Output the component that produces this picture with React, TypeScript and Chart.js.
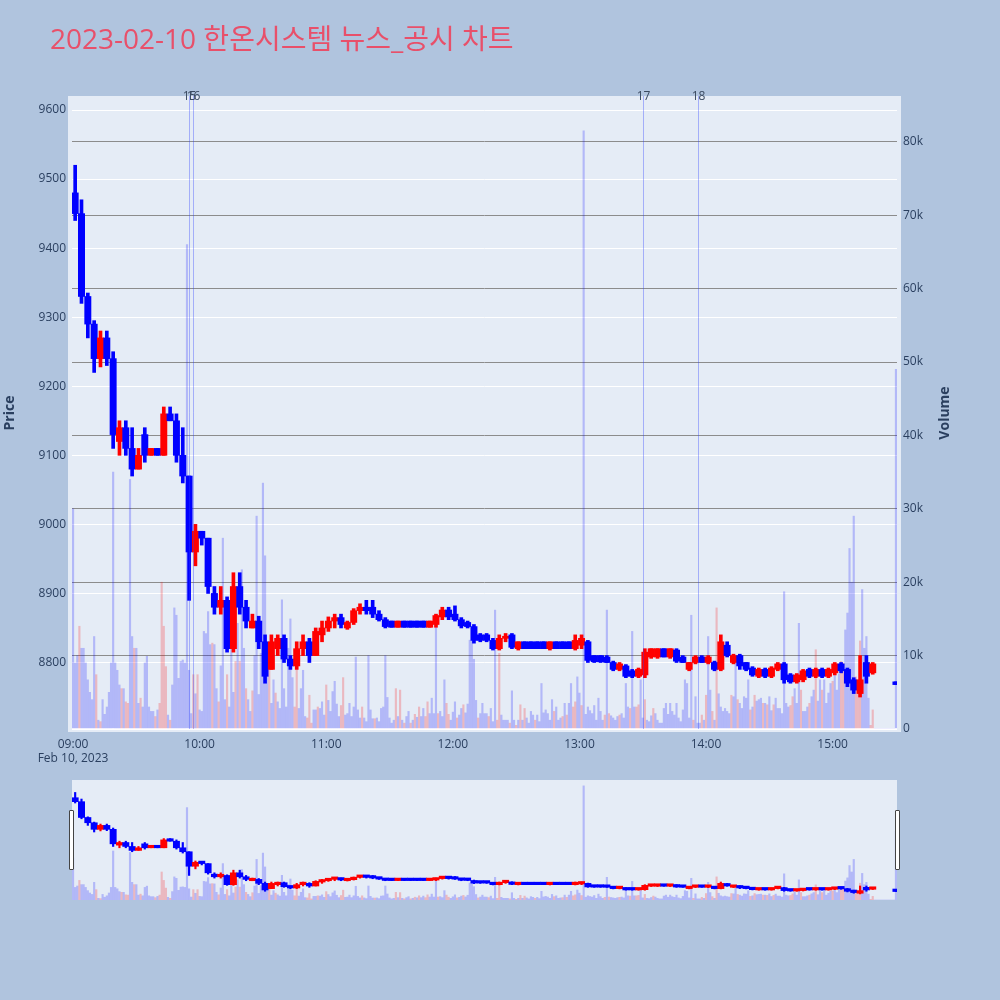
import React, { useEffect, useRef } from "react";
import { Chart, registerables } from "chart.js";
Chart.register(...registerables);

const TITLE = "2023-02-10 한온시스템 뉴스_공시 차트";
const DATE_LABEL = "Feb 10, 2023";
const X_TICKS = ["09:00", "10:00", "11:00", "12:00", "13:00", "14:00", "15:00"];
const PRICE_TICKS = [8800, 8900, 9000, 9100, 9200, 9300, 9400, 9500, 9600];
const VOLUME_TICKS = [0, 10000, 20000, 30000, 40000, 50000, 60000, 70000, 80000];
const VOLUME_TICK_LABELS = ["0", "10k", "20k", "30k", "40k", "50k", "60k", "70k", "80k"];

const NEWS_TIMES = ["09:55", "09:57", "13:30", "13:56"];
const NEWS_LABELS = ["15", "16", "17", "18"];

// candle centre times (3-minute candles) + closing auction
const CANDLE_TIMES = [
  "09:01","09:04","09:07","09:10","09:13","09:16","09:19","09:22","09:25","09:28",
  "09:31","09:34","09:37","09:40","09:43","09:46","09:49","09:52","09:55","09:58",
  "10:01","10:04","10:07","10:10","10:13","10:16","10:19","10:22","10:25","10:28",
  "10:31","10:34","10:37","10:40","10:43","10:46","10:49","10:52","10:55","10:58",
  "11:01","11:04","11:07","11:10","11:13","11:16","11:19","11:22","11:25","11:28",
  "11:31","11:34","11:37","11:40","11:43","11:46","11:49","11:52","11:55","11:58",
  "12:01","12:04","12:07","12:10","12:13","12:16","12:19","12:22","12:25","12:28",
  "12:31","12:34","12:37","12:40","12:43","12:46","12:49","12:52","12:55","12:58",
  "13:01","13:04","13:07","13:10","13:13","13:16","13:19","13:22","13:25","13:28",
  "13:31","13:34","13:37","13:40","13:43","13:46","13:49","13:52","13:55","13:58",
  "14:01","14:04","14:07","14:10","14:13","14:16","14:19","14:22","14:25","14:28",
  "14:31","14:34","14:37","14:40","14:43","14:46","14:49","14:52","14:55","14:58",
  "15:01","15:04","15:07","15:10","15:13","15:16","15:19","15:30"
];
const OPEN = [
  9480,9450,9330,9290,9240,9270,9240,9120,9140,9110,
  9080,9130,9100,9110,9100,9160,9150,9100,9070,8960,
  8990,8980,8900,8880,8890,8820,8910,8880,8850,8860,
  8830,8790,8820,8835,8805,8795,8820,8830,8810,8840,
  8850,8860,8865,8850,8858,8875,8880,8880,8870,8862,
  8860,8851,8860,8860,8860,8860,8851,8855,8866,8876,
  8870,8862,8858,8852,8840,8840,8832,8820,8835,8840,
  8820,8830,8830,8830,8830,8820,8830,8830,8830,8820,
  8825,8830,8810,8810,8808,8800,8790,8795,8788,8780,
  8782,8808,8808,8820,8808,8818,8808,8790,8800,8808,
  8800,8800,8790,8825,8800,8810,8800,8792,8780,8790,
  8780,8790,8798,8782,8772,8775,8790,8780,8790,8780,
  8785,8798,8790,8775,8755,8800,8785,8772
];
const HIGH = [
  9520,9470,9335,9295,9280,9280,9250,9150,9150,9140,
  9110,9140,9110,9110,9170,9170,9160,9140,9070,9000,
  8990,8980,8910,8910,8895,8930,8930,8890,8870,8867,
  8840,8840,8840,8840,8810,8830,8840,8835,8850,8860,
  8866,8870,8870,8860,8878,8885,8890,8890,8875,8865,
  8860,8860,8860,8860,8860,8860,8860,8870,8880,8880,
  8882,8865,8860,8855,8842,8842,8835,8840,8842,8842,
  8830,8830,8830,8830,8830,8830,8830,8830,8830,8840,
  8840,8832,8810,8810,8810,8802,8800,8797,8790,8792,
  8820,8820,8820,8820,8820,8820,8810,8800,8810,8810,
  8810,8802,8840,8830,8812,8812,8800,8794,8792,8792,
  8794,8800,8800,8784,8784,8790,8792,8792,8792,8792,
  8800,8800,8792,8778,8810,8810,8800,8772
];
const LOW = [
  9440,9320,9270,9220,9228,9230,9110,9100,9100,9070,
  9080,9090,9100,9100,9100,9150,9090,9060,8890,8940,
  8970,8900,8870,8870,8815,8815,8870,8850,8850,8820,
  8770,8790,8810,8800,8790,8790,8810,8800,8810,8830,
  8845,8850,8850,8848,8855,8870,8870,8865,8860,8850,
  8851,8851,8851,8851,8851,8851,8851,8851,8862,8862,
  8860,8850,8850,8828,8830,8830,8818,8818,8830,8820,
  8818,8820,8820,8820,8820,8818,8820,8820,8820,8818,
  8820,8800,8800,8800,8800,8788,8788,8778,8778,8778,
  8778,8806,8806,8808,8806,8800,8800,8788,8798,8800,
  8798,8788,8788,8808,8798,8790,8788,8780,8778,8778,
  8778,8788,8770,8770,8770,8772,8778,8778,8778,8778,
  8782,8785,8765,8755,8750,8770,8783,8768
];
const CLOSE = [
  9450,9330,9290,9240,9270,9240,9130,9140,9110,9080,
  9100,9100,9110,9100,9160,9150,9100,9070,8960,8990,
  8980,8910,8880,8890,8820,8910,8880,8860,8860,8830,
  8780,8830,8835,8805,8795,8820,8830,8810,8845,8850,
  8860,8865,8855,8858,8875,8880,8875,8870,8862,8852,
  8851,8860,8851,8851,8851,8851,8860,8868,8876,8866,
  8862,8853,8852,8832,8832,8832,8820,8835,8838,8822,
  8830,8820,8820,8820,8820,8830,8820,8820,8820,8832,
  8835,8803,8801,8801,8800,8790,8798,8780,8780,8790,
  8815,8820,8820,8808,8820,8802,8800,8800,8808,8800,
  8808,8790,8830,8810,8810,8795,8790,8782,8790,8780,
  8792,8798,8775,8772,8782,8788,8780,8790,8780,8790,
  8798,8788,8770,8760,8775,8780,8798,8768
];

// one volume bar per minute from 09:00 (values in thousands of shares)
const VOLUME_START = "09:00";
const VOLUME_K = [
  30,9,10,14,11,11,9,6.7,5,4,
  12.6,7.4,1.2,1,4,2,3,5,9,35,
  9,8,6,5.5,5.5,3.7,3.5,34,12.6,11,
  11,3.5,4.2,3,9,9.9,3,2.4,2.4,1.7,
  2.6,3.5,20,14,8.5,1.9,1.2,6,16.5,15.5,
  6.9,9.2,9.4,9,66,8,2.1,7.4,4.8,7.4,
  2.6,2.4,13.3,13,16,11.5,11.7,11.5,5.5,3.7,
  8.6,26,4,7.4,3,19,5,9.2,14.4,9.2,
  21.7,11,5.5,4,2.4,5.2,10,29,4.7,10.3,
  33.5,23.6,7.2,8.6,3.5,6.7,4.9,3.7,2.8,17.6,
  5.5,3,11,15,7,3,9.5,2.8,5.5,8,
  1.7,1.5,4.6,0.8,2.6,2.6,3,2.8,3.7,1.9,
  6,3.9,2.4,5.1,6.5,3.4,1.7,3.2,7,1.9,
  2.1,3.5,1.7,3,9.8,2.6,1.5,3,1.5,1,
  10,2.6,1.4,1.4,1.5,1,2.8,3,10,4.3,
  1.5,0.8,1.2,5.5,1.7,5.3,1.2,0.8,1.7,2.4,
  0.8,1.2,2,1.6,3,1.7,2.8,1.7,3.7,2.1,
  4.2,2.1,14.4,2.1,2.4,1.7,6.7,3.5,2,1.2,
  2.3,3.7,1.5,1.9,2.8,3.3,2.2,3.4,12.1,12.1,
  9.5,3.9,1.5,2.1,3.5,2.1,2.1,1.7,2.8,1,
  16.2,1.2,10.3,1.9,1.2,1.2,1.2,0.8,5.2,1.2,
  0.5,1.2,3.3,1.2,2.8,1.5,0.8,2.4,1.9,1.2,
  1.9,1,6.2,2.2,2.6,2.1,1.2,4,2.4,3,
  1.2,1.5,1.7,3.5,1.9,3.5,6.2,3,3.7,7.1,
  4.9,3.2,81.5,2,3,2.5,2.1,3.2,1.2,4.2,
  2.4,1.2,1.9,16.2,2.1,1.8,1.5,1.2,1.7,1.9,
  2.1,1.5,6.2,3,2.8,13.3,3,3,3.3,6.7,
  1.5,4,1.2,1,1.8,2.8,2.1,1.2,0.8,0.8,
  2.8,3.5,2,3.5,2.4,1.9,3.5,1.5,1,2.6,
  6.7,6.2,1.5,15.5,1.2,4.4,0.8,0.8,1.9,1.2,
  4.6,12.6,5.3,2.4,1.2,16.5,4.8,3,2.4,2.8,
  2.4,2.1,4.6,4.4,9.9,4,3.5,2.8,4.4,4.2,
  6.7,2.6,3,4.6,3.8,4,4.2,3.5,3.5,3.3,
  4.4,2.5,3.3,4.2,2.8,2.8,2.1,18.7,3.5,3,
  3.2,4.4,5.5,3.5,14.4,5.3,2.4,2.4,3,3.5,
  4.4,5.3,10.8,3.8,6.7,5.3,6.7,3.5,4.9,6.2,
  6.5,8,5.3,7.5,9.2,9,13.5,15.8,24.6,20,
  29,7.1,6.2,12,19,11,12.6,4.2,0.5,2.6,
  0,0,0,0,0,0,0,0,0,0,
  49
];
// minutes (from 09:00) whose volume bar is an up (red) bar
const VOLUME_UP_MINUTES = [
  3,11,13,23,25,26,29,32,39,41,42,43,44,46,57,59,66,69,73,77,79,82,85,93,96,
  105,106,111,112,113,116,120,127,128,137,143,153,155,157,160,162,164,167,168,
  173,177,178,182,185,192,197,201,202,207,210,212,214,219,228,232,234,237,238,
  241,252,254,259,264,267,268,271,275,294,298,300,303,305,312,315,321,323,327,
  329,332,340,341,345,349,352,355,360,364,365,371,372,373,378,379
];

// ---- styling / layout ----
const PAPER = "#B0C4DE";
const PLOT_BG = "#E5ECF6";
const TICK_COLOR = "#2a3f5f";
const TITLE_COLOR = "#E8506A";
const UP = "#FF0000";
const DOWN = "#0000FF";
const VOL_UP = "rgba(255,0,0,0.22)";
const VOL_DOWN = "rgba(0,0,255,0.22)";
const FONT = "'Open Sans', 'Noto Sans CJK KR', sans-serif";
const X_MIN = -0.5, X_MAX = 390.5;
const P_MIN = 8703.7, P_MAX = 9614.5;
const V_MAX = 85700;

const toMin = (s: string) => {
  const [h, m] = s.split(":").map(Number);
  return (h - 9) * 60 + m;
};

function buildDatasets(slider: boolean) {
  const cx = CANDLE_TIMES.map(toMin);
  const cColors = CLOSE.map((c, i) => (c >= OPEN[i] ? UP : DOWN));
  const v0 = toMin(VOLUME_START);
  const upSet = new Set(VOLUME_UP_MINUTES);
  const volData = VOLUME_K.map((v, i) => ({ x: v0 + i, y: v * 1000 }));
  const volColors = VOLUME_K.map((_, i) => (upSet.has(v0 + i) ? VOL_UP : VOL_DOWN));
  return [
    {
      type: "bar",
      data: volData,
      backgroundColor: volColors,
      barThickness: 1.5,
      grouped: false,
      yAxisID: "y1",
      order: 3,
    },
    {
      type: "bar",
      data: cx.map((x, i) => ({ x, y: [LOW[i], HIGH[i]] })),
      backgroundColor: cColors,
      barThickness: slider ? 1.5 : 3,
      grouped: false,
      yAxisID: "y",
      order: 2,
    },
    {
      type: "bar",
      data: cx.map((x, i) => ({ x, y: [OPEN[i], CLOSE[i]] })),
      backgroundColor: cColors,
      barThickness: 6.3,
      minBarLength: slider ? 2.5 : 2,
      grouped: false,
      yAxisID: "y",
      order: 1,
    },
  ];
}

const mainPlugin = {
  id: "mainDecor",
  beforeDraw(chart: any) {
    const { ctx, chartArea: a } = chart;
    ctx.save();
    ctx.fillStyle = PAPER;
    ctx.fillRect(0, 0, chart.width, chart.height);
    ctx.fillStyle = PLOT_BG;
    ctx.fillRect(a.left - 4, a.top - 4, a.right - a.left + 8, a.bottom - a.top + 7);
    ctx.restore();
  },
  afterDatasetsDraw(chart: any) {
    const { ctx, chartArea: a } = chart;
    const xs = chart.scales.x;
    ctx.save();
    ctx.strokeStyle = "rgba(40,60,255,0.35)";
    ctx.lineWidth = 1;
    NEWS_TIMES.forEach((t) => {
      const x = Math.round(xs.getPixelForValue(toMin(t))) + 0.5;
      ctx.beginPath();
      ctx.moveTo(x, a.top - 4);
      ctx.lineTo(x, a.bottom);
      ctx.stroke();
    });
    ctx.restore();
  },
  afterDraw(chart: any) {
    const { ctx, chartArea: a } = chart;
    const xs = chart.scales.x;
    ctx.save();
    // title
    ctx.fillStyle = TITLE_COLOR;
    ctx.font = `28px ${FONT}`;
    ctx.textAlign = "left";
    ctx.textBaseline = "middle";
    ctx.fillText(TITLE, 50, 41);
    // news labels
    ctx.fillStyle = "#3a4a60";
    ctx.font = `12px ${FONT}`;
    ctx.textAlign = "center";
    NEWS_TIMES.forEach((t, i) => {
      const x = Math.round(xs.getPixelForValue(toMin(t))) + 0.5;
      ctx.fillText(NEWS_LABELS[i], x, a.top - 3);
    });
    // axis titles
    ctx.fillStyle = TICK_COLOR;
    ctx.font = `bold 14px ${FONT}`;
    ctx.save();
    ctx.translate(10, 413);
    ctx.rotate(-Math.PI / 2);
    ctx.fillText("Price", 0, 0);
    ctx.restore();
    ctx.save();
    ctx.translate(945, 413);
    ctx.rotate(-Math.PI / 2);
    ctx.fillText("Volume", 0, 0);
    ctx.restore();
    ctx.restore();
  },
};

const sliderPlugin = {
  id: "sliderBg",
  beforeDraw(chart: any) {
    const { ctx } = chart;
    ctx.save();
    ctx.fillStyle = PLOT_BG;
    ctx.fillRect(0, 0, chart.width, chart.height);
    ctx.restore();
  },
};

export default function App() {
  const mainRef = useRef<HTMLCanvasElement>(null);
  const sliderRef = useRef<HTMLCanvasElement>(null);

  useEffect(() => {
    Chart.defaults.font.family = FONT;
    const main = new Chart(mainRef.current as HTMLCanvasElement, {
      type: "bar",
      data: { datasets: buildDatasets(false) as any },
      plugins: [mainPlugin],
      options: {
        responsive: false,
        animation: false,
        events: [],
        layout: { padding: { top: 100, left: 0, right: 0, bottom: 0 } },
        plugins: { legend: { display: false }, tooltip: { enabled: false }, title: { display: false } },
        scales: {
          x: {
            type: "linear",
            min: X_MIN,
            max: X_MAX,
            offset: false,
            position: "bottom",
            grid: { display: false, drawTicks: false, offset: false },
            border: { display: false },
            afterBuildTicks: (s: any) => {
              s.ticks = X_TICKS.map((t) => ({ value: toMin(t) }));
            },
            afterFit: (s: any) => {
              s.height = 51;
            },
            ticks: {
              padding: 8,
              color: TICK_COLOR,
              font: { size: 12, family: FONT },
              maxRotation: 0,
              autoSkip: false,
              callback: (_v: any, i: number) => (i === 0 ? [X_TICKS[0], DATE_LABEL] : X_TICKS[i]),
            },
          },
          y: {
            type: "linear",
            position: "left",
            min: P_MIN,
            max: P_MAX,
            grid: { color: "#FFFFFF", lineWidth: 1, drawTicks: false },
            border: { display: false },
            afterBuildTicks: (s: any) => {
              s.ticks = PRICE_TICKS.map((v) => ({ value: v }));
            },
            afterFit: (s: any) => {
              s.width = 72;
            },
            ticks: {
              padding: 6,
              color: TICK_COLOR,
              font: { size: 12, family: FONT },
              callback: (v: any) => String(v),
            },
          },
          y1: {
            type: "linear",
            position: "right",
            min: 0,
            max: V_MAX,
            grid: {
              color: (c: any) => (c.tick && c.tick.value === 0 ? "#FFFFFF" : "rgb(140,140,140)"),
              lineWidth: (c: any) => (c.tick && c.tick.value === 0 ? 2 : 1),
              drawTicks: false,
            },
            border: { display: false },
            afterBuildTicks: (s: any) => {
              s.ticks = VOLUME_TICKS.map((v) => ({ value: v }));
            },
            afterFit: (s: any) => {
              s.width = 103;
            },
            ticks: {
              padding: 6,
              color: TICK_COLOR,
              font: { size: 12, family: FONT },
              callback: (_v: any, i: number) => VOLUME_TICK_LABELS[i],
            },
          },
        },
      } as any,
    });

    const slider = new Chart(sliderRef.current as HTMLCanvasElement, {
      type: "bar",
      data: { datasets: buildDatasets(true) as any },
      plugins: [sliderPlugin],
      options: {
        responsive: false,
        animation: false,
        events: [],
        layout: { padding: 0 },
        plugins: { legend: { display: false }, tooltip: { enabled: false } },
        scales: {
          x: { type: "linear", min: X_MIN, max: X_MAX, offset: false, display: false },
          y: { type: "linear", min: P_MIN, max: P_MAX, display: false },
          y1: { type: "linear", min: 0, max: V_MAX, display: false },
        },
      } as any,
    });

    return () => {
      main.destroy();
      slider.destroy();
    };
  }, []);

  const handle: React.CSSProperties = {
    position: "absolute",
    top: 810,
    width: 5,
    height: 60,
    background: "#FFFFFF",
    border: "1px solid #444",
    boxSizing: "border-box",
    borderRadius: 1,
  };

  return (
    <div
      style={{
        position: "absolute",
        left: 0,
        top: 0,
        width: 1000,
        height: 1000,
        background: PAPER,
        overflow: "hidden",
      }}
    >
      <canvas ref={mainRef} width={1000} height={780} style={{ position: "absolute", left: 0, top: 0 }} />
      <canvas ref={sliderRef} width={825} height={120} style={{ position: "absolute", left: 72, top: 780 }} />
      <div style={{ ...handle, left: 69 }} />
      <div style={{ ...handle, left: 895 }} />
    </div>
  );
}
